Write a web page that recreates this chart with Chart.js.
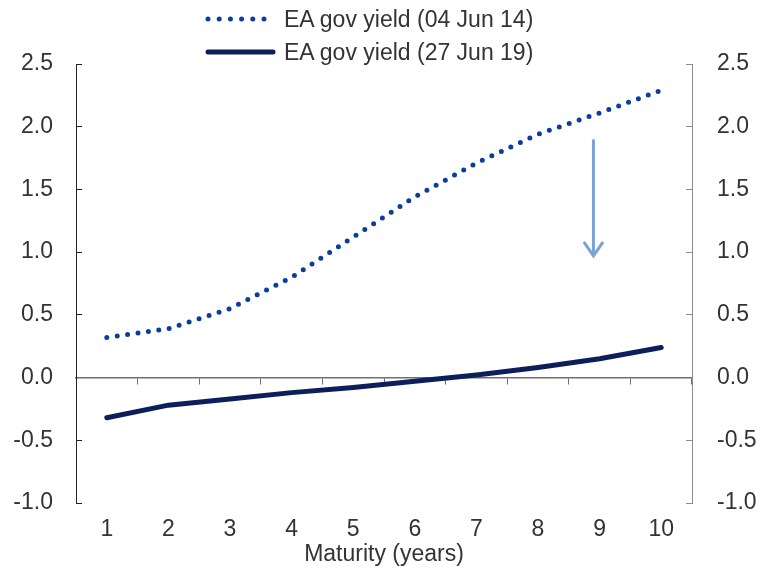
<!DOCTYPE html>
<html>
<head>
<meta charset="utf-8">
<script src="https://cdn.jsdelivr.net/npm/chart.js@4.4.0/dist/chart.umd.min.js"></script>
<style>
  body { margin: 0; background: #fff; }
  #wrap { position: relative; width: 763px; height: 570px; }
  #legend { position: absolute; left: 0; top: 0; font-family: "Liberation Sans", Arial, sans-serif; font-size: 23px; color: #333; }
  .row { position: absolute; left: 204px; height: 30px; white-space: nowrap; display: flex; align-items: center; }
  .row svg { margin-right: 4px; }
</style>
</head>
<body>
<div id="wrap">
  <canvas id="yieldChart" width="763" height="570"></canvas>
  <div id="legend">
    <div class="row" style="top:4px;">
      <svg width="76" height="10"><line x1="4" y1="5" x2="60" y2="5" stroke="#0b3e9b" stroke-width="5" stroke-linecap="round" stroke-dasharray="0 11.2"/></svg>
      <span>EA gov yield (04 Jun 14)</span>
    </div>
    <div class="row" style="top:37px;">
      <svg width="76" height="10"><line x1="4" y1="5" x2="69" y2="5" stroke="#0c1f5a" stroke-width="5" stroke-linecap="round"/></svg>
      <span>EA gov yield (27 Jun 19)</span>
    </div>
  </div>
</div>
<script>
// Maturities on the x axis (years)
const maturities = ['1', '2', '3', '4', '5', '6', '7', '8', '9', '10'];

// Euro area government bond yield curves (%)
const yield2014 = [0.32, 0.39, 0.55, 0.80, 1.12, 1.44, 1.71, 1.94, 2.11, 2.29];
const yield2019 = [-0.32, -0.22, -0.17, -0.12, -0.08, -0.03, 0.02, 0.08, 0.15, 0.24];

// Arrow annotation (in data units): maturity, from-yield, to-yield
const arrowMaturity = 8.9;
const arrowFrom = 1.89;
const arrowTo = 0.97;

const fontFamily = '"Liberation Sans", Arial, sans-serif';
const textColor = '#333333';

// Draws the downward arrow through the chart's own scales
const arrowPlugin = {
    id: 'arrow',
    afterDatasetsDraw(chart) {
        const ctx = chart.ctx;
        const x = chart.scales.x.getPixelForValue(arrowMaturity - 1);
        const y1 = chart.scales.y.getPixelForValue(arrowFrom);
        const y2 = chart.scales.y.getPixelForValue(arrowTo);
        ctx.save();
        ctx.strokeStyle = '#7ca3d5';
        ctx.lineWidth = 3;
        ctx.lineCap = 'round';
        ctx.beginPath();
        ctx.moveTo(x, y1);
        ctx.lineTo(x, y2);
        ctx.moveTo(x - 9, y2 - 13);
        ctx.lineTo(x, y2);
        ctx.lineTo(x + 9, y2 - 13);
        ctx.stroke();
        ctx.restore();
    }
};

document.addEventListener('DOMContentLoaded', function() {
    const ctx = document.getElementById('yieldChart').getContext('2d');

    new Chart(ctx, {
        type: 'line',
        data: {
            labels: maturities,
            datasets: [{
                label: 'EA gov yield (04 Jun 14)',
                data: yield2014,
                borderColor: '#0b3e9b',
                borderWidth: 5,
                borderDash: [0, 10.5],
                borderCapStyle: 'round',
                pointRadius: 0,
                tension: 0
            }, {
                label: 'EA gov yield (27 Jun 19)',
                data: yield2019,
                borderColor: '#0c1f5a',
                borderWidth: 5,
                borderCapStyle: 'round',
                pointRadius: 0,
                tension: 0
            }]
        },
        options: {
            responsive: false,
            animation: false,
            layout: { padding: { top: 64, left: 0, right: 0, bottom: 0 } },
            plugins: {
                legend: { display: false },
                tooltip: { enabled: false }
            },
            scales: {
                x: {
                    type: 'category',
                    offset: true,
                    grid: { display: false },
                    border: { display: false },
                    ticks: {
                        color: textColor,
                        padding: 5,
                        font: { family: fontFamily, size: 23 }
                    },
                    title: {
                        display: true,
                        text: 'Maturity (years)',
                        color: textColor,
                        padding: { top: 0, bottom: 2 },
                        font: { family: fontFamily, size: 23 }
                    },
                    afterFit(scale) { scale.height = 67; }
                },
                x2: {
                    type: 'category',
                    labels: maturities,
                    offset: true,
                    position: { y: 0 },
                    grid: {
                        offset: true,
                        drawOnChartArea: false,
                        drawTicks: true,
                        tickLength: 6,
                        color: '#6f6f6f'
                    },
                    border: { display: true, color: '#6f6f6f', width: 1.5 },
                    ticks: { display: false }
                },
                y: {
                    position: 'left',
                    min: -1,
                    max: 2.5,
                    grid: {
                        drawOnChartArea: false,
                        drawTicks: true,
                        tickLength: -6,
                        color: '#222222'
                    },
                    border: { display: true, color: '#222222', width: 1 },
                    ticks: {
                        stepSize: 0.5,
                        color: textColor,
                        padding: 29,
                        font: { family: fontFamily, size: 23 },
                        callback: v => v.toFixed(1)
                    },
                    afterFit(scale) { scale.width = 76; }
                },
                y2: {
                    position: 'right',
                    min: -1,
                    max: 2.5,
                    grid: {
                        drawOnChartArea: false,
                        drawTicks: true,
                        tickLength: -6,
                        color: '#8c8c8c'
                    },
                    border: { display: true, color: '#8c8c8c', width: 1 },
                    ticks: {
                        stepSize: 0.5,
                        color: textColor,
                        padding: 31,
                        font: { family: fontFamily, size: 23 },
                        callback: v => v.toFixed(1)
                    },
                    afterFit(scale) { scale.width = 71; }
                }
            }
        },
        plugins: [arrowPlugin]
    });
});
</script>
</body>
</html>
